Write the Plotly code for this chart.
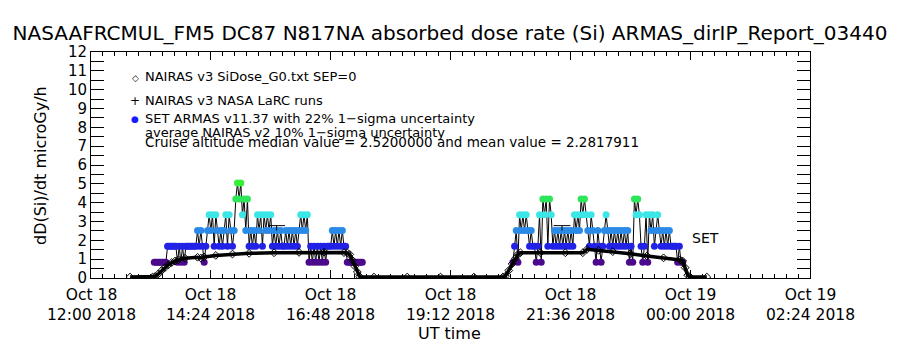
import plotly.graph_objects as go
import pandas as pd

TITLE = "NASAAFRCMUL_FM5 DC87 N817NA absorbed dose rate (Si) ARMAS_dirIP_Report_03440"
FONT = "DejaVu Sans"

# NAIRAS v3 model curve (time, dose microGy/h)
nairas_time = [
    "2018-10-18 12:47", "2018-10-18 13:14", "2018-10-18 13:17", "2018-10-18 13:21",
    "2018-10-18 13:25", "2018-10-18 13:29", "2018-10-18 13:33", "2018-10-18 13:37",
    "2018-10-18 13:41", "2018-10-18 13:45", "2018-10-18 13:53", "2018-10-18 14:08",
    "2018-10-18 14:12", "2018-10-18 14:16", "2018-10-18 14:30", "2018-10-18 14:50",
    "2018-10-18 15:10", "2018-10-18 15:40", "2018-10-18 16:10", "2018-10-18 16:40",
    "2018-10-18 17:04", "2018-10-18 17:08", "2018-10-18 17:11", "2018-10-18 17:14",
    "2018-10-18 17:17", "2018-10-18 17:20", "2018-10-18 17:23", "2018-10-18 17:40",
    "2018-10-18 18:20", "2018-10-18 19:00", "2018-10-18 19:40", "2018-10-18 20:15",
    "2018-10-18 20:18", "2018-10-18 20:22", "2018-10-18 20:26", "2018-10-18 20:30",
    "2018-10-18 20:33", "2018-10-18 20:36", "2018-10-18 21:00", "2018-10-18 21:30",
    "2018-10-18 21:51", "2018-10-18 21:56", "2018-10-18 22:10", "2018-10-18 22:27",
    "2018-10-18 22:48", "2018-10-18 23:08", "2018-10-18 23:28", "2018-10-18 23:48",
    "2018-10-18 23:51", "2018-10-18 23:54", "2018-10-18 23:57", "2018-10-19 00:00",
    "2018-10-19 00:20",
]
nairas_dose = [
    0.05, 0.05, 0.08, 0.22,
    0.40, 0.56, 0.70, 0.82,
    0.90, 0.97, 1.05, 1.10,
    1.06, 1.12, 1.20, 1.27,
    1.31, 1.34, 1.36, 1.37,
    1.35, 1.33, 1.25, 0.95,
    0.62, 0.32, 0.07, 0.05,
    0.05, 0.05, 0.05, 0.05,
    0.10, 0.40, 0.75, 1.05,
    1.25, 1.34, 1.34, 1.34,
    1.34, 1.52, 1.47, 1.40,
    1.29, 1.17, 1.07, 0.96,
    0.90, 0.55, 0.15, 0.05,
    0.05,
]

# SET ARMAS measurements: level index (dose = level * 0.84 microGy/h), 2-min samples
ARMAS_STEP = 0.84
armas1_start = "2018-10-18 13:16"
armas1_level = [
    1, 1, 1, 1, 1, 1, 1, 1, 2, 2, 2, 2, 2, 2, 1, 2, 1, 2, 1, 2,
    2, 2, 2, 2, 2, 2, 3, 2, 3, 2, 1, 2, 3, 4, 3, 4, 2, 4, 3, 2,
    3, 2, 3, 4, 2, 4, 3, 2, 3, 5, 6, 5, 6, 4, 5, 3, 5, 2, 3, 2,
    3, 2, 4, 3, 4, 2, 4, 3, 4, 3, 4, 2, 3, 2, 3, 2, 3, 2, 2, 3,
    2, 3, 2, 3, 2, 3, 2, 3, 4, 3, 4, 3, 4, 1, 2, 1, 2, 1, 2, 1,
    2, 1, 2, 1, 2, 2, 2, 3, 2, 3, 2, 3, 2, 3, 2, 2, 1, 1, 1, 1,
    1, 1, 1, 1, 1, 1,
]
armas2_start = "2018-10-18 20:27"
armas2_level = [
    1, 2, 3, 1, 4, 3, 4, 3, 4, 3, 2, 3, 2, 2, 1, 2, 4, 1, 5, 4,
    5, 2, 5, 4, 2, 3, 2, 3, 2, 3, 2, 3, 2, 3, 2, 3, 2, 4, 3, 4,
    3, 5, 4, 5, 4, 3, 2, 4, 3, 2, 1, 3, 2, 1, 2, 3, 4, 3, 2, 3,
    2, 3, 2, 3, 2, 3, 2, 3, 2, 3, 1, 2, 1, 5, 4, 5, 4, 2, 1, 2,
    4, 1, 4, 3, 4, 2, 3, 4, 3, 2, 3, 2, 3, 2, 3, 2, 2, 2, 2, 1,
    2, 1, 1,
]
level_colors = {1: "#4b0a8c", 2: "#2222e6", 3: "#2a8ae8", 4: "#3ce6e6", 5: "#2ee65a", 6: "#38ee38"}

# average NAIRAS 10% uncertainty bars
err_time = ["2018-10-18 15:43", "2018-10-18 21:26"]
err_value = [2.52, 2.52]
err_plus = [0.26, 0.26]

# axis ticks
x_tickvals = ["2018-10-18 12:00", "2018-10-18 14:24", "2018-10-18 16:48", "2018-10-18 19:12",
              "2018-10-18 21:36", "2018-10-19 00:00", "2018-10-19 02:24"]
x_tick_line1 = ["Oct 18", "Oct 18", "Oct 18", "Oct 18", "Oct 18", "Oct 19", "Oct 19"]
x_tick_line2 = ["12:00 2018", "14:24 2018", "16:48 2018", "19:12 2018", "21:36 2018",
                "00:00 2018", "02:24 2018"]
y_tickvals = list(range(0, 13))

legend_rows = [
    ("NAIRAS v3 SiDose_G0.txt SEP=0", "◇"),
    ("NAIRAS v3 NASA LaRC runs", "+"),
    ("SET ARMAS v11.37 with 22% 1−sigma uncertainty", "●"),
    ("average NAIRAS v2 10% 1−sigma uncertainty", ""),
]
stats_text = "Cruise altitude median value = 2.5200000 and mean value = 2.2817911"

fig = go.Figure()

for start, lev in ((armas1_start, armas1_level), (armas2_start, armas2_level)):
    t = pd.date_range(start, periods=len(lev), freq="2min")
    fig.add_trace(go.Scatter(
        x=t, y=[v * ARMAS_STEP for v in lev], mode="lines+markers",
        line=dict(color="black", width=1),
        marker=dict(symbol="circle", size=7, color=[level_colors[v] for v in lev], line=dict(width=0)),
        showlegend=False, hoverinfo="skip"))

fig.add_trace(go.Scatter(
    x=pd.to_datetime(nairas_time), y=nairas_dose, mode="lines+markers",
    line=dict(color="black", width=3.5),
    marker=dict(symbol="diamond-open", size=6, color="black", line=dict(width=1)),
    showlegend=False, hoverinfo="skip"))

# one-sided "T" uncertainty bars
for tt, v, e in zip(err_time, err_value, err_plus):
    ts = pd.Timestamp(tt)
    fig.add_trace(go.Scatter(
        x=[ts, ts], y=[v, v + e], mode="lines",
        line=dict(color="black", width=1), showlegend=False, hoverinfo="skip"))
    fig.add_trace(go.Scatter(
        x=[ts], y=[v + e], mode="markers",
        marker=dict(symbol="line-ew", size=12, line=dict(color="black", width=1)),
        showlegend=False, hoverinfo="skip"))

# pixel helpers for the plot frame
X0, W, Y0, H = 91, 719, 52, 226
def px(x):
    return (x - X0) / W
def py(y):
    return (Y0 + H - y) / H

row_y = [77, 100, 118, 132]
for (txt, sym), yy in zip(legend_rows, row_y):
    fig.add_annotation(x=px(143), y=py(yy), xref="paper", yref="paper", text=txt,
                       showarrow=False, xanchor="left", yanchor="middle",
                       font=dict(family=FONT, size=13, color="black"))
    if sym:
        col = "#1a1aff" if sym == "●" else "black"
        fig.add_annotation(x=px(135), y=py(yy + 1), xref="paper", yref="paper", text=sym,
                           showarrow=False, xanchor="center", yanchor="middle",
                           font=dict(family=FONT, size=9 if sym != "+" else 12, color=col))
fig.add_annotation(x=px(143), y=py(142), xref="paper", yref="paper", text=stats_text,
                   showarrow=False, xanchor="left", yanchor="middle",
                   font=dict(family=FONT, size=13.5, color="black"))
fig.add_annotation(x="2018-10-19 00:00", y=2.12, xref="x", yref="y", text="SET",
                   showarrow=False, xanchor="left", yanchor="middle",
                   font=dict(family=FONT, size=14, color="black"))

# x tick labels (two lines) and axis titles
for tv, l1, l2 in zip(x_tickvals, x_tick_line1, x_tick_line2):
    fig.add_annotation(x=tv, y=py(305), xref="x", yref="paper", text=l1 + "<br>" + l2,
                       showarrow=False, xanchor="center", yanchor="middle",
                       font=dict(family=FONT, size=15.5))
fig.add_annotation(x=px(449), y=py(333), xref="paper", yref="paper", text="UT time",
                   showarrow=False, xanchor="center", yanchor="middle",
                   font=dict(family=FONT, size=16))
fig.add_annotation(x=px(40), y=py(166), xref="paper", yref="paper", text="dD(Si)/dt microGy/h",
                   showarrow=False, xanchor="center", yanchor="middle", textangle=-90,
                   font=dict(family=FONT, size=16))

fig.update_layout(
    width=900, height=350,
    margin=dict(l=91, r=90, t=52, b=72),
    paper_bgcolor="white", plot_bgcolor="white",
    font=dict(family=FONT, color="black"),
    title=dict(text=TITLE, x=0.5, xanchor="center", y=1 - 33 / 350, yanchor="middle",
               font=dict(family=FONT, size=20, color="black")),
    xaxis=dict(type="date", range=["2018-10-18 12:00", "2018-10-19 02:24"],
               tickmode="array", tickvals=x_tickvals, showticklabels=False,
               ticks="inside", ticklen=8, tickcolor="black", tickwidth=1,
               minor=dict(dtick=864000, tick0="2018-10-18 12:00", ticks="inside", ticklen=4,
                          tickcolor="black", showgrid=False),
               showline=True, linecolor="black", linewidth=1, mirror="ticks",
               showgrid=False, zeroline=False, automargin=False),
    yaxis=dict(range=[0, 12], tickmode="array", tickvals=y_tickvals,
               ticks="inside", ticklen=13, tickcolor="black", tickwidth=1,
               minor=dict(dtick=0.5, ticks="inside", ticklen=13, tickcolor="black", showgrid=False),
               showline=True, linecolor="black", linewidth=1, mirror="ticks",
               showgrid=False, zeroline=False, automargin=False,
               tickfont=dict(family=FONT, size=15)),
)

fig.write_html("out.html")
